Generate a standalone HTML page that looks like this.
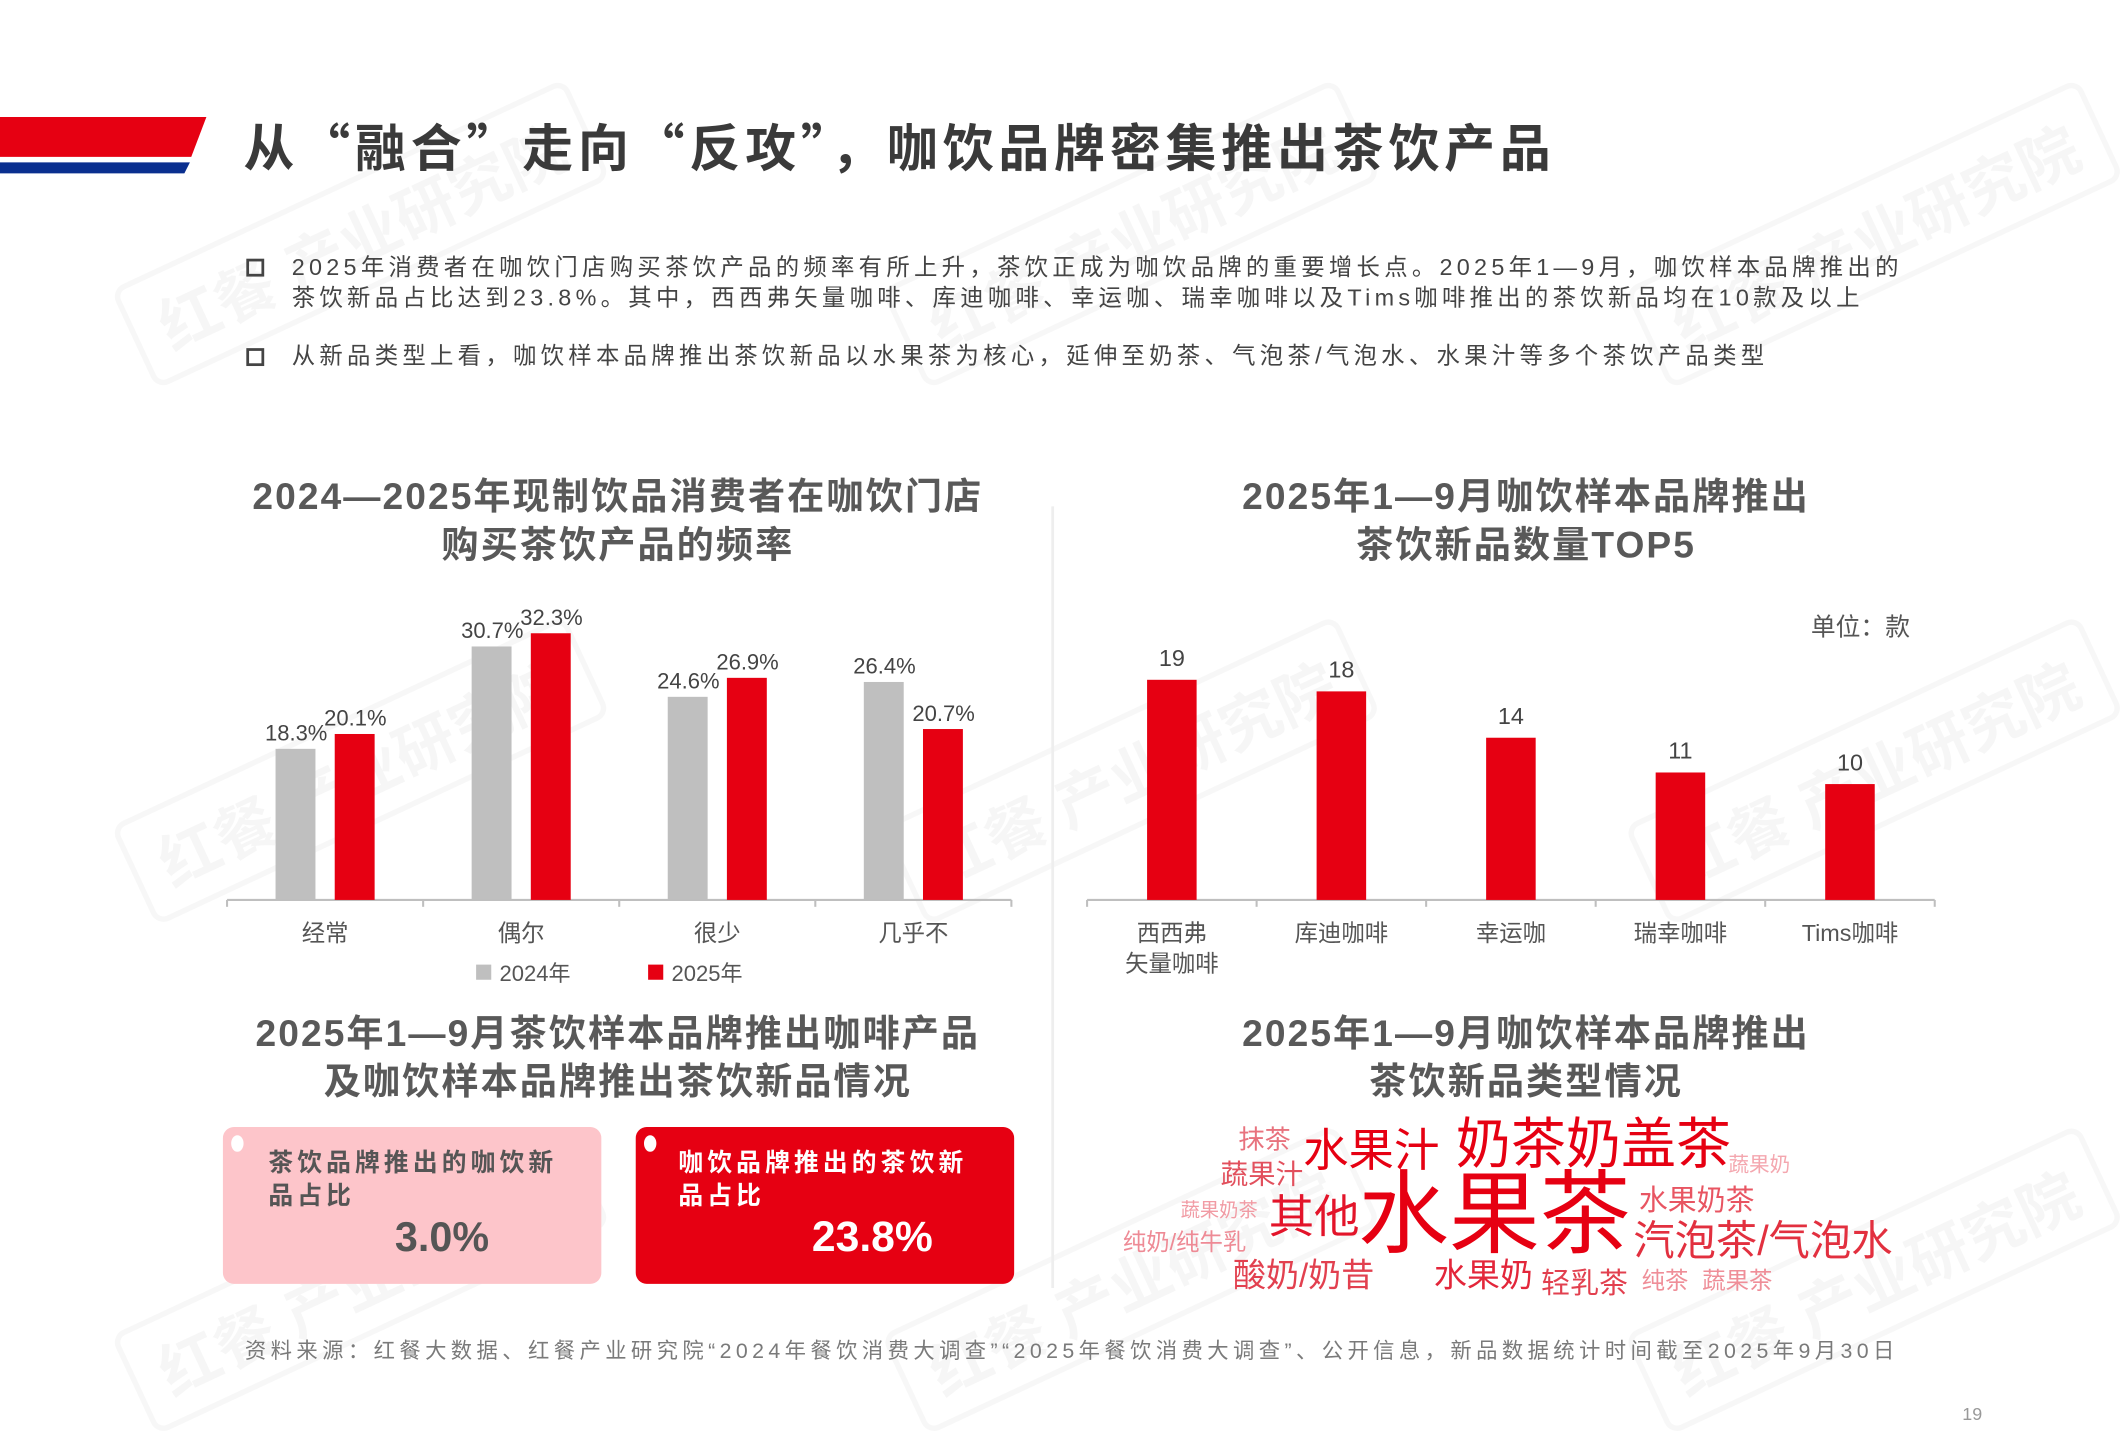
<!DOCTYPE html>
<html><head><meta charset="utf-8">
<style>
html,body{margin:0;padding:0;background:#fff;}
body{width:2126px;height:1418px;overflow:hidden;position:relative;}
#page{position:absolute;left:0;top:0;width:1545px;height:1030px;transform:scale(1.37605);transform-origin:0 0;font-family:"Liberation Sans","Noto Sans CJK SC",sans-serif;color:#444;}
.abs{position:absolute;white-space:nowrap;}
.ct{font-weight:bold;color:#595959;font-size:27px;letter-spacing:1.5px;text-align:center;line-height:35px;}
.bul{font-size:17px;color:#444;line-height:22px;letter-spacing:3.1px;}
.sq{position:absolute;width:9px;height:9px;border:2px solid #444;}
.wm{position:absolute;font-size:44px;font-weight:bold;color:rgba(0,0,0,0.035);transform:rotate(-25deg);border:4px solid rgba(0,0,0,0.03);border-radius:10px;padding:4px 18px;white-space:nowrap;}
.w{position:absolute;white-space:nowrap;line-height:1;transform:translateY(-50%);}
</style></head>
<body>
<div id="page">
<div class="wm" style="left:80px;top:130px">红餐 产业研究院</div>
<div class="wm" style="left:640px;top:130px">红餐 产业研究院</div>
<div class="wm" style="left:1180px;top:130px">红餐 产业研究院</div>
<div class="wm" style="left:80px;top:520px">红餐 产业研究院</div>
<div class="wm" style="left:640px;top:520px">红餐 产业研究院</div>
<div class="wm" style="left:1180px;top:520px">红餐 产业研究院</div>
<div class="wm" style="left:80px;top:890px">红餐 产业研究院</div>
<div class="wm" style="left:640px;top:890px">红餐 产业研究院</div>
<div class="wm" style="left:1180px;top:890px">红餐 产业研究院</div>

<svg class="abs" style="left:0;top:0" width="160" height="130">
<polygon points="0,85 150,85 139,114 0,114" fill="#e60012"/>
<polygon points="0,118 138,118 134,126 0,126" fill="#0a2f8f"/>
</svg>
<div class="abs" style="left:177px;top:80px;font-size:37px;letter-spacing:3.5px;font-weight:bold;color:#3a3a3a;font-family:'Noto Sans CJK SC','Liberation Sans',sans-serif;line-height:50px">从“融合”走向“反攻”，咖饮品牌密集推出茶饮产品</div>

<div class="sq" style="left:179px;top:188px"></div>
<div class="abs bul" style="left:212px;top:184px">2025年消费者在咖饮门店购买茶饮产品的频率有所上升，茶饮正成为咖饮品牌的重要增长点。2025年1—9月，咖饮样本品牌推出的<br>茶饮新品占比达到23.8%。其中，西西弗矢量咖啡、库迪咖啡、幸运咖、瑞幸咖啡以及Tims咖啡推出的茶饮新品均在10款及以上</div>
<div class="sq" style="left:179px;top:253px"></div>
<div class="abs bul" style="left:212px;top:248px">从新品类型上看，咖饮样本品牌推出茶饮新品以水果茶为核心，延伸至奶茶、气泡茶/气泡水、水果汁等多个茶饮产品类型</div>

<div class="abs" style="left:764px;top:368px;width:2px;height:568px;background:#eee"></div>

<div class="abs ct" style="left:149px;top:344px;width:600px">2024—2025年现制饮品消费者在咖饮门店<br>购买茶饮产品的频率</div>
<div class="abs ct" style="left:809px;top:344px;width:600px">2025年1—9月咖饮样本品牌推出<br>茶饮新品数量TOP5</div>
<div class="abs ct" style="left:149px;top:734px;width:600px">2025年1—9月茶饮样本品牌推出咖啡产品<br>及咖饮样本品牌推出茶饮新品情况</div>
<div class="abs ct" style="left:809px;top:734px;width:600px">2025年1—9月咖饮样本品牌推出<br>茶饮新品类型情况</div>

<svg class="abs" id="c1" style="left:0;top:0" width="1545" height="730"></svg>
<div class="abs" style="left:1316px;top:442px;font-size:18px;color:#555">单位：款</div>

<div class="abs" style="left:162px;top:819px;width:275px;height:114px;background:#fdc5ca;border-radius:8px">
<div class="abs" style="left:6px;top:6px;width:9px;height:12px;border-radius:50%;background:#fff"></div>
<div class="abs" style="left:33px;top:14px;font-size:18px;font-weight:bold;color:#555;letter-spacing:3px;line-height:24px">茶饮品牌推出的咖饮新<br>品占比</div>
<div class="abs" style="left:125px;top:64px;font-size:30px;font-weight:bold;color:#555">3.0%</div>
</div>
<div class="abs" style="left:462px;top:819px;width:275px;height:114px;background:#e60012;border-radius:8px">
<div class="abs" style="left:6px;top:6px;width:9px;height:12px;border-radius:50%;background:#fff"></div>
<div class="abs" style="left:31px;top:14px;font-size:18px;font-weight:bold;color:#fff;letter-spacing:3px;line-height:24px">咖饮品牌推出的茶饮新<br>品占比</div>
<div class="abs" style="left:128px;top:62px;font-size:31px;font-weight:bold;color:#fff">23.8%</div>
</div>

<div id="cloud">
<div class="w" style="left:900px;top:829px;font-size:19px;color:#e8737e">抹茶</div>
<div class="w" style="left:947px;top:836px;font-size:33px;color:#e60012">水果汁</div>
<div class="w" style="left:1058px;top:832px;font-size:40px;color:#e60012">奶茶奶盖茶</div>
<div class="w" style="left:1256px;top:847px;font-size:15px;color:#f4a7af">蔬果奶</div>
<div class="w" style="left:887px;top:854px;font-size:20px;color:#e2505d">蔬果汁</div>
<div class="w" style="left:858px;top:879px;font-size:14px;color:#f19ba4">蔬果奶茶</div>
<div class="w" style="left:922px;top:884px;font-size:33px;color:#e3142a">其他</div>
<div class="w" style="left:987px;top:882px;font-size:66px;color:#e60012">水果茶</div>
<div class="w" style="left:1191px;top:873px;font-size:21px;color:#e85562">水果奶茶</div>
<div class="w" style="left:1187px;top:903px;font-size:30px;color:#e2303f">汽泡茶/气泡水</div>
<div class="w" style="left:816px;top:903px;font-size:17px;color:#ee8a95">纯奶/纯牛乳</div>
<div class="w" style="left:896px;top:928px;font-size:24px;color:#e2404f">酸奶/奶昔</div>
<div class="w" style="left:1042px;top:928px;font-size:24px;color:#e3263a">水果奶</div>
<div class="w" style="left:1120px;top:933px;font-size:21px;color:#e2404f">轻乳茶</div>
<div class="w" style="left:1193px;top:931px;font-size:17px;color:#ef8e98">纯茶</div>
<div class="w" style="left:1237px;top:931px;font-size:17px;color:#ef8e98">蔬果茶</div>
</div>

<div class="abs" style="left:178px;top:970px;font-size:15.5px;letter-spacing:3.2px;color:#7a7a7a">资料来源：红餐大数据、红餐产业研究院“2024年餐饮消费大调查”“2025年餐饮消费大调查”、公开信息，新品数据统计时间截至2025年9月30日</div>
<div class="abs" style="left:1426px;top:1020px;font-size:13px;color:#999">19</div>
</div>

<script>
const freqCategories = ["经常","偶尔","很少","几乎不"];
const freq2024 = [18.3, 30.7, 24.6, 26.4];
const freq2025 = [20.1, 32.3, 26.9, 20.7];
const freqSeries = ["2024年","2025年"];
const brandCategories = ["西西弗\n矢量咖啡","库迪咖啡","幸运咖","瑞幸咖啡","Tims咖啡"];
const brandCounts = [19, 18, 14, 11, 10];

const NS = "http://www.w3.org/2000/svg";
const svg = document.getElementById("c1");
function mk(tag, attrs, text){
  const e = document.createElementNS(NS, tag);
  for (const k in attrs) e.setAttribute(k, attrs[k]);
  if (text !== undefined) e.textContent = text;
  svg.appendChild(e);
  return e;
}
const base = 654;
const x1L = 165, x1R = 735, g1 = (x1R - x1L) / freqCategories.length;
const y1 = v => base - v * 6.0;
let ax = mk("line",{x1:x1L,y1:base,x2:x1R,y2:base,stroke:"#bfbfbf","stroke-width":1.5});


for (let i = 0; i <= freqCategories.length; i++) {
  const t = mk("line",{x1:x1L+i*g1,y1:base,x2:x1L+i*g1,y2:base+5,stroke:"#bfbfbf","stroke-width":1.5});
  
  
}
freqCategories.forEach((c, i) => {
  const cx = x1L + g1 * (i + 0.5);
  const b1 = mk("rect",{x:cx-36,y:y1(freq2024[i]),width:29,height:base-y1(freq2024[i]),fill:"#bfbfbf"});
  
  
  const b2 = mk("rect",{x:cx+7,y:y1(freq2025[i]),width:29,height:base-y1(freq2025[i]),fill:"#e60012"});
  
  
  const l1 = mk("text",{x:cx-21,y:y1(freq2024[i])-6,"text-anchor":"middle","font-size":16,fill:"#444"}, freq2024[i].toFixed(1)+"%");
  
  
  const l2 = mk("text",{x:cx+22,y:y1(freq2025[i])-6,"text-anchor":"middle","font-size":16,fill:"#444"}, freq2025[i].toFixed(1)+"%");
  
  
  const cl = mk("text",{x:cx,y:base+30,"text-anchor":"middle","font-size":17,fill:"#555"}, c);
  
  
});
[["#bfbfbf",346],["#e60012",471]].forEach((p, i) => {
  const r = mk("rect",{x:p[1],y:701,width:11,height:11,fill:p[0]});
  
  
  const t = mk("text",{x:p[1]+17,y:713,"font-size":16,fill:"#555"}, freqSeries[i]);
  
  
});
const x2L = 790, x2R = 1406, g2 = (x2R - x2L) / brandCategories.length;
const y2 = v => base - v * 8.42;
ax = mk("line",{x1:x2L,y1:base,x2:x2R,y2:base,stroke:"#bfbfbf","stroke-width":1.5});


for (let i = 0; i <= brandCategories.length; i++) {
  const t = mk("line",{x1:x2L+i*g2,y1:base,x2:x2L+i*g2,y2:base+5,stroke:"#bfbfbf","stroke-width":1.5});
  
  
}
brandCategories.forEach((c, i) => {
  const cx = x2L + g2 * (i + 0.5);
  const b = mk("rect",{x:cx-18,y:y2(brandCounts[i]),width:36,height:base-y2(brandCounts[i]),fill:"#e60012"});
  
  
  const l = mk("text",{x:cx,y:y2(brandCounts[i])-10,"text-anchor":"middle","font-size":17,fill:"#444"}, brandCounts[i]);
  
  
  c.split("\n").forEach((ln, k) => {
    const t = mk("text",{x:cx,y:base+30+k*22,"text-anchor":"middle","font-size":17,fill:"#555"}, ln);
    
    
  });
});
</script>
</body></html>
